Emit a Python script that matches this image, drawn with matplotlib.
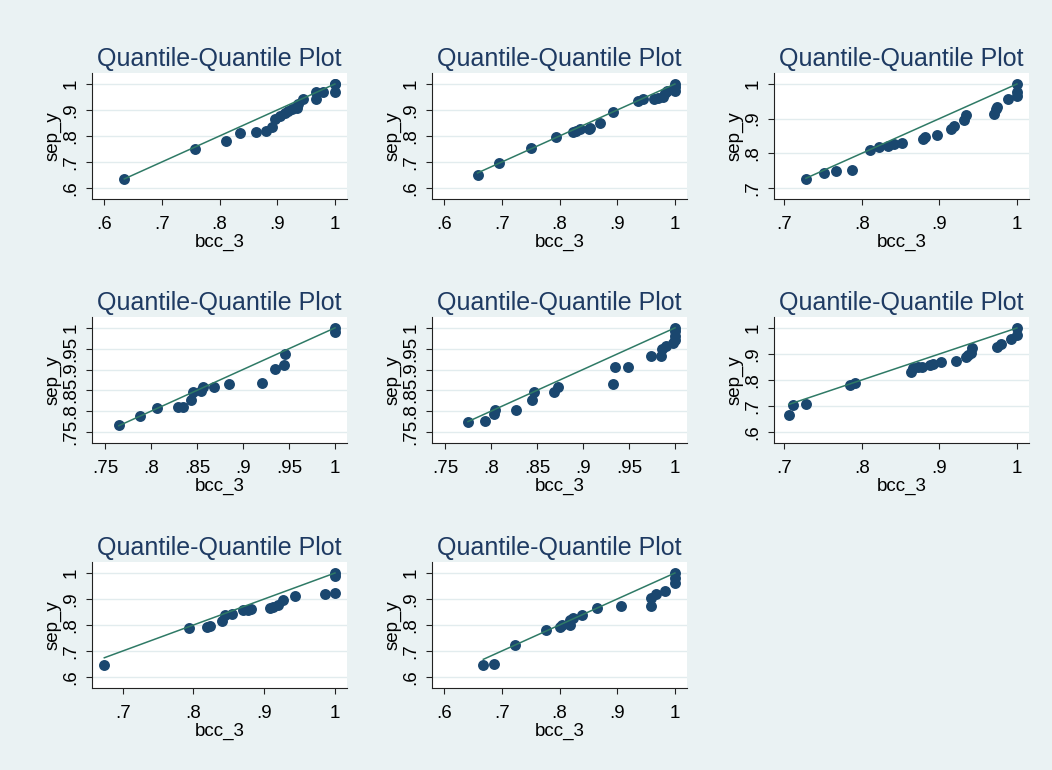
import matplotlib.pyplot as plt

# quantiles (bcc_3 on x, sep_y on y)
bcc_1 = [0.635, 0.758, 0.811, 0.836, 0.864, 0.881, 0.891, 0.897, 0.905, 0.913, 0.919,
         0.925, 0.934, 0.936, 0.944, 0.967, 0.967, 0.980, 1.0, 1.0, 1.0]
sep_1 = [0.636, 0.750, 0.781, 0.811, 0.817, 0.821, 0.836, 0.866, 0.877, 0.890, 0.896,
         0.903, 0.907, 0.923, 0.941, 0.942, 0.971, 0.969, 0.969, 1.0, 1.0]

bcc_2 = [0.658, 0.695, 0.751, 0.794, 0.823, 0.829, 0.835, 0.851, 0.853, 0.871, 0.892,
         0.936, 0.944, 0.964, 0.971, 0.979, 0.983, 0.987, 1.0, 1.0, 1.0]
sep_2 = [0.649, 0.696, 0.753, 0.796, 0.816, 0.821, 0.826, 0.827, 0.830, 0.849, 0.893,
         0.936, 0.941, 0.941, 0.946, 0.951, 0.967, 0.973, 0.973, 0.990, 1.0]

bcc_3 = [0.728, 0.752, 0.767, 0.787, 0.811, 0.822, 0.834, 0.842, 0.852, 0.879, 0.881,
         0.897, 0.915, 0.919, 0.932, 0.934, 0.970, 0.973, 0.974, 0.989, 1.0, 1.0, 1.0]
sep_3 = [0.726, 0.743, 0.749, 0.752, 0.810, 0.818, 0.820, 0.827, 0.831, 0.841, 0.846,
         0.853, 0.870, 0.879, 0.896, 0.911, 0.913, 0.929, 0.935, 0.957, 0.965, 0.978, 1.0]

bcc_4 = [0.765, 0.788, 0.807, 0.829, 0.835, 0.843, 0.846, 0.854, 0.857, 0.868, 0.885,
         0.921, 0.935, 0.945, 0.946, 1.0, 1.0]
sep_4 = [0.766, 0.789, 0.808, 0.811, 0.811, 0.826, 0.847, 0.849, 0.857, 0.859, 0.866,
         0.867, 0.902, 0.910, 0.936, 0.990, 1.0]

bcc_5 = [0.775, 0.793, 0.803, 0.804, 0.827, 0.845, 0.847, 0.868, 0.873, 0.933, 0.935,
         0.949, 0.974, 0.985, 0.986, 0.990, 0.998, 1.0, 1.0, 1.0, 1.0]
sep_5 = [0.774, 0.777, 0.793, 0.803, 0.803, 0.826, 0.846, 0.846, 0.859, 0.866, 0.905,
         0.905, 0.933, 0.933, 0.949, 0.956, 0.964, 0.972, 0.980, 0.992, 1.0]

bcc_6 = [0.706, 0.711, 0.728, 0.785, 0.792, 0.863, 0.866, 0.873, 0.878, 0.888, 0.892,
         0.902, 0.921, 0.934, 0.937, 0.941, 0.942, 0.975, 0.979, 0.993, 1.0, 1.0]
sep_6 = [0.666, 0.705, 0.709, 0.781, 0.789, 0.830, 0.846, 0.851, 0.851, 0.856, 0.861,
         0.869, 0.874, 0.887, 0.897, 0.904, 0.923, 0.927, 0.940, 0.959, 0.974, 1.0]

bcc_7 = [0.674, 0.794, 0.819, 0.824, 0.841, 0.844, 0.855, 0.870, 0.877, 0.882, 0.908,
         0.913, 0.920, 0.927, 0.943, 0.986, 1.0, 1.0, 1.0]
sep_7 = [0.648, 0.790, 0.794, 0.797, 0.817, 0.838, 0.843, 0.856, 0.856, 0.861, 0.864,
         0.869, 0.878, 0.895, 0.913, 0.920, 0.923, 0.987, 1.0]

bcc_8 = [0.668, 0.686, 0.723, 0.776, 0.801, 0.805, 0.818, 0.819, 0.824, 0.839, 0.865,
         0.907, 0.958, 0.959, 0.968, 0.983, 1.0, 1.0, 1.0]
sep_8 = [0.648, 0.650, 0.725, 0.779, 0.792, 0.801, 0.801, 0.820, 0.828, 0.839, 0.866,
         0.873, 0.873, 0.904, 0.920, 0.929, 0.961, 0.981, 1.0]

ticks_x = [[.6, .7, .8, .9, 1], [.6, .7, .8, .9, 1], [.7, .8, .9, 1],
           [.75, .8, .85, .9, .95, 1], [.75, .8, .85, .9, .95, 1], [.7, .8, .9, 1],
           [.7, .8, .9, 1], [.6, .7, .8, .9, 1]]
ticks_y = [[.6, .7, .8, .9, 1], [.6, .7, .8, .9, 1], [.7, .8, .9, 1],
           [.75, .8, .85, .9, .95, 1], [.75, .8, .85, .9, .95, 1], [.6, .7, .8, .9, 1],
           [.6, .7, .8, .9, 1], [.6, .7, .8, .9, 1]]

xs = [bcc_1, bcc_2, bcc_3, bcc_4, bcc_5, bcc_6, bcc_7, bcc_8]
ys = [sep_1, sep_2, sep_3, sep_4, sep_5, sep_6, sep_7, sep_8]

# axis ranges (plot region as in the picture)
xlims = [(0.579, 1.021), (0.579, 1.021), (0.687, 1.0156), (0.7359, 1.013),
         (0.7359, 1.013), (0.687, 1.0156), (0.6566, 1.017), (0.579, 1.021)]
ylims = [(0.5577, 1.0423), (0.5577, 1.0423), (0.6683, 1.0317), (0.7236, 1.026),
         (0.7236, 1.026), (0.5577, 1.0423), (0.5577, 1.0423), (0.5577, 1.0423)]

bg = '#EAF2F3'
navy = '#1A476F'
title_col = '#1E3A62'
green = '#2F7A66'

plt.rcParams['font.family'] = ['Liberation Sans', 'DejaVu Sans']


def stata_fmt(v):
    s = ('%g' % v)
    if s.startswith('0.'):
        s = s[1:]
    return s


fig = plt.figure(figsize=(10.52, 7.7), dpi=100, facecolor=bg)
W, H = 1052, 770
lefts = [92, 432, 774]
tops = [73, 317, 562]

for i in range(8):
    r, c = divmod(i, 3)
    ax = fig.add_axes([lefts[c] / W, 1 - (tops[r] + 126) / H, 255 / W, 126 / H])
    ax.set_facecolor('white')
    for s in ['top', 'right']:
        ax.spines[s].set_visible(False)
    for s in ['left', 'bottom']:
        ax.spines[s].set_color('#222222')
        ax.spines[s].set_linewidth(0.8)
    x, y = xs[i], ys[i]
    ax.scatter(x, y, s=62, color=navy, zorder=3, linewidths=0)
    ax.plot([min(x), max(x)], [min(x), max(x)], color=green, lw=1.1, zorder=4)
    ax.set_xlim(xlims[i])
    ax.set_ylim(ylims[i])
    ax.set_xticks(ticks_x[i], [stata_fmt(v) for v in ticks_x[i]])
    ax.set_yticks(ticks_y[i], [stata_fmt(v) for v in ticks_y[i]])
    ax.tick_params(axis='both', length=4.5, width=0.8, color='#222222', labelsize=13.5)
    ax.tick_params(axis='x', pad=8)
    ax.tick_params(axis='y', pad=4.5)
    plt.setp(ax.get_yticklabels(), rotation=90, va='center')
    ax.yaxis.grid(True, color='#E2ECEE', lw=1.0)
    ax.set_axisbelow(True)
    ax.set_xlabel('bcc_3', fontsize=13.5, labelpad=0)
    ax.set_ylabel('sep_y', fontsize=13.5, labelpad=1)
    ax.set_title('Quantile-Quantile Plot', fontsize=18, color=title_col, pad=5)

fig.savefig('out.png', dpi=100, facecolor=bg)
